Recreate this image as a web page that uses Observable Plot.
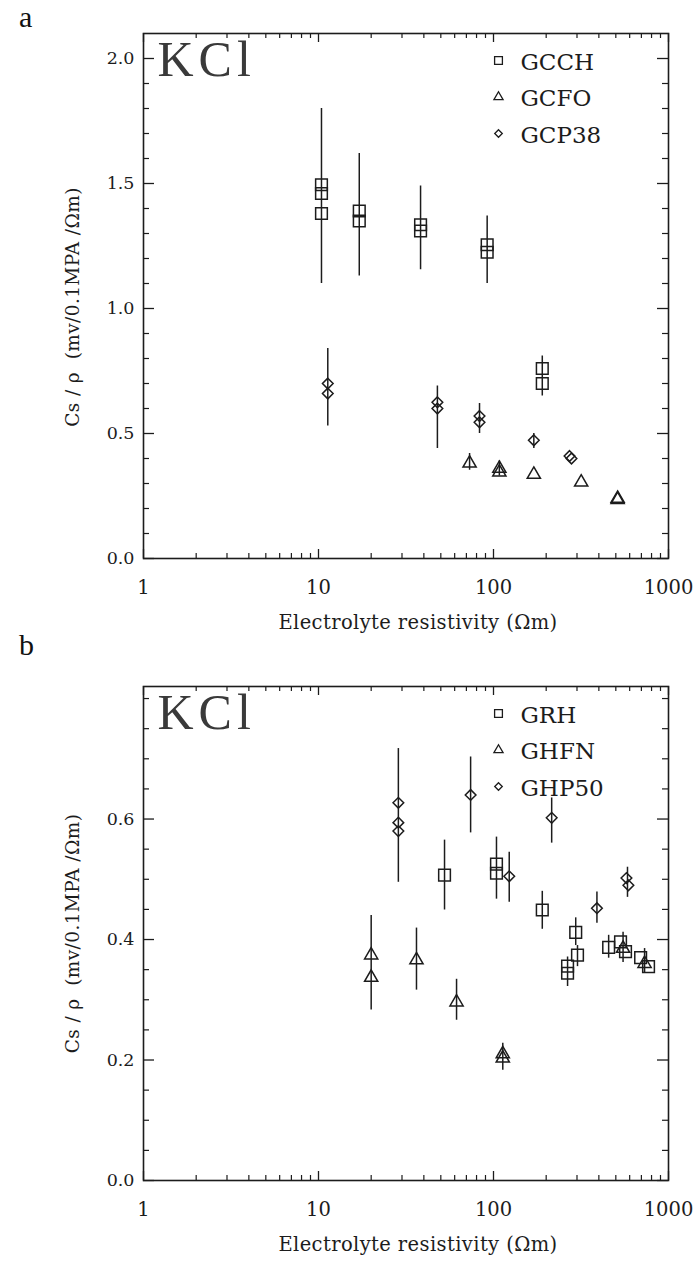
<!DOCTYPE html>
<html><head><meta charset="utf-8">
<script src="https://cdn.jsdelivr.net/npm/d3@7"></script>
<script src="https://cdn.jsdelivr.net/npm/@observablehq/plot@0.6"></script>
<style>
body{margin:0;background:#fff;}
#wrap{position:relative;width:697px;height:1267px;overflow:hidden;}
.panel{position:absolute;left:0;}
.tag{position:absolute;left:19px;font-size:30px;line-height:normal;font-family:"Liberation Serif",serif;color:#111;z-index:2;}
.kcl text{letter-spacing:5px;}
.ttl text{letter-spacing:0.4px;}
</style></head><body><div id="wrap">
<div id="pa" class="panel" style="top:0"></div>
<div id="pb" class="panel" style="top:640px"></div>
<div class="tag" style="top:0px">a</div>
<div class="tag" style="top:628px">b</div>
</div>
<script>
// ---------- shared axis ticks ----------
const xMajor = [1, 10, 100, 1000];
const xMinor = [2,3,4,5,6,7,8,9,20,30,40,50,60,70,80,90,200,300,400,500,600,700,800,900];
const xTitle = "Electrolyte resistivity (Ωm)";
const yTitle = "Cs / ρ  (mv/0.1MPA /Ωm)";

// ---------- panel a ----------
const aYMajor = [0, 0.5, 1.0, 1.5, 2.0];
const aYMinor = [0.1,0.2,0.3,0.4,0.6,0.7,0.8,0.9,1.1,1.2,1.3,1.4,1.6,1.7,1.8,1.9];
const aLegend = ["GCCH", "GCFO", "GCP38"];
// GCCH (squares)
const aGCCH_r = [10.4, 10.4, 10.4, 17.1, 17.1, 38.3, 38.3, 92, 92, 190, 190];
const aGCCH_v = [1.495, 1.46, 1.38, 1.39, 1.35, 1.335, 1.31, 1.255, 1.225, 0.76, 0.70];
const aGCCH_barR = [10.4, 17.1, 38.3, 92, 190];
const aGCCH_lo = [1.10, 1.13, 1.155, 1.10, 0.65];
const aGCCH_hi = [1.80, 1.62, 1.49, 1.37, 0.81];
// GCFO (triangles)
const aGCFO_r = [73, 108, 108, 170, 317, 512, 512];
const aGCFO_v = [0.381, 0.36, 0.345, 0.336, 0.305, 0.24, 0.235];
const aGCFO_barR = [73, 108];
const aGCFO_lo = [0.353, 0.33];
const aGCFO_hi = [0.42, 0.39];
// GCP38 (diamonds)
const aGCP38_r = [11.3, 11.3, 47.8, 47.8, 83.2, 83.2, 170, 272, 279];
const aGCP38_v = [0.70, 0.66, 0.625, 0.60, 0.57, 0.545, 0.473, 0.41, 0.40];
const aGCP38_barR = [11.3, 47.8, 83.2, 170];
const aGCP38_lo = [0.53, 0.44, 0.50, 0.44];
const aGCP38_hi = [0.84, 0.69, 0.62, 0.50];

// ---------- panel b ----------
const bYMajor = [0, 0.2, 0.4, 0.6];
const bYMinor = [0.05,0.1,0.15,0.25,0.3,0.35,0.45,0.5,0.55,0.65,0.7,0.75,0.8];
const bLegend = ["GRH", "GHFN", "GHP50"];
// GRH (squares)
const bGRH_r = [52.5, 104, 104, 190, 295, 302, 265, 265, 455, 532, 568, 693, 769];
const bGRH_v = [0.507, 0.525, 0.51, 0.449, 0.412, 0.374, 0.356, 0.344, 0.387, 0.396, 0.38, 0.37, 0.355];
const bGRH_barR = [52.5, 104, 190, 295, 302, 265, 455, 550, 730];
const bGRH_lo = [0.449, 0.467, 0.417, 0.39, 0.355, 0.322, 0.369, 0.362, 0.345];
const bGRH_hi = [0.565, 0.57, 0.48, 0.436, 0.39, 0.371, 0.407, 0.412, 0.385];
// GHFN (triangles)
const bGHFN_r = [20, 20, 36.3, 61.5, 113, 113, 550, 730];
const bGHFN_v = [0.374, 0.337, 0.366, 0.296, 0.21, 0.203, 0.385, 0.36];
const bGHFN_barR = [20, 36.3, 61.5, 113];
const bGHFN_lo = [0.283, 0.316, 0.266, 0.183];
const bGHFN_hi = [0.44, 0.419, 0.334, 0.228];
// GHP50 (diamonds)
const bGHP50_r = [28.6, 28.6, 28.6, 74, 123, 215, 390, 575, 590];
const bGHP50_v = [0.627, 0.594, 0.58, 0.64, 0.505, 0.602, 0.452, 0.502, 0.49];
const bGHP50_barR = [28.6, 74, 123, 215, 390, 583];
const bGHP50_lo = [0.495, 0.577, 0.462, 0.56, 0.427, 0.47];
const bGHP50_hi = [0.717, 0.703, 0.545, 0.635, 0.479, 0.52];

const INK = "#1c1c1c";
const FONT = "DejaVu Serif";

function pts(rs, vs) { return rs.map((r, i) => ({r, v: vs[i]})); }
function bars(rs, lo, hi) { return rs.map((r, i) => ({r, lo: lo[i], hi: hi[i]})); }

function panel({height, mt, mb, ydom, yMajor, yMinor, yFmt, legend, series, yTitleDy}) {
  const width = 697, ml = 143, mr = 29;
  const iw = width - ml - mr, ih = height - mt - mb;
  const symBig = {square: 6.6, triangle: 4.9, diamond2: 4.8};
  const symSmall = {square: 4.4, triangle: 3.4, diamond2: 3.4};
  const marks = [
    Plot.frame({stroke: INK, strokeWidth: 1.6}),
    // inward ticks, x
    Plot.tickX(xMajor, {x: d => d, insetTop: ih - 9, stroke: INK, strokeWidth: 1.3}),
    Plot.tickX(xMajor, {x: d => d, insetBottom: ih - 9, stroke: INK, strokeWidth: 1.3}),
    Plot.tickX(xMinor, {x: d => d, insetTop: ih - 5, stroke: INK, strokeWidth: 1.2}),
    Plot.tickX(xMinor, {x: d => d, insetBottom: ih - 5, stroke: INK, strokeWidth: 1.2}),
    // inward ticks, y
    Plot.tickY(yMajor, {y: d => d, insetRight: iw - 11, stroke: INK, strokeWidth: 1.3}),
    Plot.tickY(yMajor, {y: d => d, insetLeft: iw - 11, stroke: INK, strokeWidth: 1.3}),
    Plot.tickY(yMinor, {y: d => d, insetRight: iw - 6, stroke: INK, strokeWidth: 1.2}),
    Plot.tickY(yMinor, {y: d => d, insetLeft: iw - 6, stroke: INK, strokeWidth: 1.2}),
    Plot.axisX({ticks: xMajor, tickSize: 0, tickPadding: 22, tickFormat: d => String(d), label: null, fontSize: 19.5, fontFamily: FONT}),
    Plot.axisY({ticks: yMajor, tickSize: 0, tickPadding: 9, tickFormat: yFmt, label: null, fontSize: 17.5, fontFamily: FONT}),
    Plot.text([xTitle], {text: d => d, frameAnchor: "bottom", dx: 12, dy: 64, lineAnchor: "middle", textAnchor: "middle", fontSize: 19.5, fontFamily: FONT, fill: INK, className: "ttl"}),
    Plot.text([yTitle], {text: d => d, frameAnchor: "left", dx: -70, dy: yTitleDy, rotate: -90, lineAnchor: "middle", textAnchor: "middle", fontSize: 18.5, fontFamily: FONT, fill: INK, className: "ttl"}),
    Plot.text(["KCl"], {text: d => d, frameAnchor: "top-left", dx: 14, dy: 7, lineAnchor: "top", textAnchor: "start", fontSize: 50, fontFamily: "Liberation Serif", fill: "#3a3a3a", className: "kcl"})
  ];
  series.forEach((s, i) => {
    marks.push(Plot.ruleX(s.bars, {x: "r", y1: "lo", y2: "hi", stroke: INK, strokeWidth: 1.5}));
    marks.push(Plot.dot(s.pts, {x: "r", y: "v", symbol: s.symbol, r: symBig[s.symbol], stroke: INK, strokeWidth: 1.5, fill: "none"}));
    marks.push(Plot.dot([legend[i]], {frameAnchor: "top-right", dx: -170, dy: 27 + 36.5 * i, symbol: s.symbol, r: symSmall[s.symbol], stroke: INK, strokeWidth: 1.3, fill: "none"}));
    marks.push(Plot.text([legend[i]], {text: d => d, frameAnchor: "top-right", dx: -148, dy: 29 + 36.5 * i, lineAnchor: "middle", textAnchor: "start", fontSize: 23, fontFamily: FONT, fill: INK}));
  });
  return Plot.plot({
    width, height, marginTop: mt, marginBottom: mb, marginLeft: ml, marginRight: mr,
    style: {background: "transparent", color: INK, fontFamily: FONT},
    x: {type: "log", domain: [1, 1000], axis: null},
    y: {domain: ydom, axis: null},
    marks
  });
}

document.getElementById("pa").append(panel({
  height: 640, mt: 33, mb: 82, ydom: [0, 2.1], yMajor: aYMajor, yMinor: aYMinor,
  yFmt: d3.format(".1f"), legend: aLegend, yTitleDy: 11,
  series: [
    {symbol: "square", pts: pts(aGCCH_r, aGCCH_v), bars: bars(aGCCH_barR, aGCCH_lo, aGCCH_hi)},
    {symbol: "triangle", pts: pts(aGCFO_r, aGCFO_v), bars: bars(aGCFO_barR, aGCFO_lo, aGCFO_hi)},
    {symbol: "diamond2", pts: pts(aGCP38_r, aGCP38_v), bars: bars(aGCP38_barR, aGCP38_lo, aGCP38_hi)}
  ]
}));

document.getElementById("pb").append(panel({
  height: 627, mt: 46, mb: 87, ydom: [0, 0.82], yMajor: bYMajor, yMinor: bYMinor,
  yFmt: d3.format(".1f"), legend: bLegend, yTitleDy: 0,
  series: [
    {symbol: "square", pts: pts(bGRH_r, bGRH_v), bars: bars(bGRH_barR, bGRH_lo, bGRH_hi)},
    {symbol: "triangle", pts: pts(bGHFN_r, bGHFN_v), bars: bars(bGHFN_barR, bGHFN_lo, bGHFN_hi)},
    {symbol: "diamond2", pts: pts(bGHP50_r, bGHP50_v), bars: bars(bGHP50_barR, bGHP50_lo, bGHP50_hi)}
  ]
}));
</script>
</body></html>
